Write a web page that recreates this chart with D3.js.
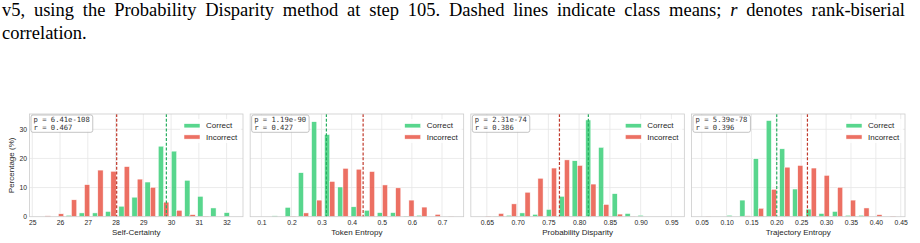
<!DOCTYPE html>
<html>
<head>
<meta charset="utf-8">
<script src="https://cdn.jsdelivr.net/npm/d3@7"></script>
<style>
body { margin:0; background:#fff; width:920px; height:243px; overflow:hidden; position:relative; }
.cap { position:absolute; left:2px; width:903px; font-family:"Liberation Serif","Times New Roman",serif; font-size:18.5px; line-height:17px; color:#000; }
#l1 { top:2px; text-align:justify; text-align-last:justify; }
#l2 { top:25px; }
svg { position:absolute; left:0; top:0; }
</style>
</head>
<body>
<div class="cap" id="l1">v5, using the Probability Disparity method at step 105. Dashed lines indicate class means; <i>r</i> denotes rank-biserial</div>
<div class="cap" id="l2">correlation.</div>
<div class="chart"></div>
<script>
// data (percent of each class per bin)
const metricNames = ["Self-Certainty", "Token Entropy", "Probability Disparity", "Trajectory Entropy"]

const binCenters = [
  [25.46, 25.94, 26.41, 26.88, 27.36, 27.83, 28.31, 28.78, 29.25, 29.73, 30.20, 30.68, 31.15, 31.62, 32.10],
  [0.153, 0.196, 0.240, 0.284, 0.327, 0.371, 0.415, 0.459, 0.502, 0.546, 0.590, 0.633, 0.677, 0.721],
  [0.648, 0.669, 0.690, 0.712, 0.733, 0.755, 0.776, 0.797, 0.819, 0.840, 0.862, 0.883, 0.904],
  [0.058, 0.084, 0.111, 0.137, 0.164, 0.190, 0.217, 0.243, 0.270, 0.296, 0.323, 0.349, 0.376, 0.402, 0.429]
]

const correctPct = [
  [0, 0, 0.5, 1.3, 1.3, 1.8, 3.6, 6.7, 11.9, 24.2, 22.5, 12.5, 7.0, 3.0, 1.4],
  [0.3, 3.2, 15.1, 32.6, 28.2, 10.2, 3.4, 2.2, 1.4, 1.4, 0.2, 0.5, 0, 0],
  [0, 0.1, 0.5, 1.3, 0.8, 2.5, 7.0, 19.2, 33.2, 23.8, 7.9, 1.1, 0.5],
  [0, 0, 0.5, 5.7, 19.9, 33.0, 23.3, 9.5, 2.6, 1.1, 1.8, 0.5, 0.5, 0, 0]
]

const incorrectPct = [
  [0.3, 1.0, 5.8, 11.0, 16.0, 15.6, 17.2, 12.9, 10.1, 5.0, 2.2, 0.7, 0.2, 0, 0],
  [0, 0.2, 1.3, 5.7, 12.1, 16.6, 16.3, 15.5, 10.9, 9.9, 5.7, 3.3, 0.8, 0.1],
  [0.2, 1.1, 4.4, 8.4, 13.2, 16.7, 19.5, 17.6, 11.2, 4.2, 0.9, 0.1, 0],
  [0.1, 0, 0, 0.3, 2.9, 9.4, 17.0, 17.6, 16.7, 14.2, 10.1, 5.7, 3.0, 0.7, 0.2]
]

const correctMean = [29.83, 0.316, 0.815, 0.2008]
const incorrectMean = [28.04, 0.438, 0.768, 0.2625]
const pValues = ["6.41e-108", "1.19e-90", "2.31e-74", "5.39e-78"]
const rValues = ["0.467", "0.427", "0.386", "0.396"]

const xTicks = [
  [25, 26, 27, 28, 29, 30, 31, 32],
  [0.1, 0.2, 0.3, 0.4, 0.5, 0.6, 0.7],
  [0.65, 0.70, 0.75, 0.80, 0.85, 0.90, 0.95],
  [0.05, 0.10, 0.15, 0.20, 0.25, 0.30, 0.35, 0.40, 0.45]
]
const yTicks = [0, 10, 20, 30]
const seriesNames = ["Correct", "Incorrect"]

// layout
const xDomains = [[24.9, 32.59], [0.0628, 0.772], [0.624, 0.971], [0.0295, 0.4586]]
const tickFormats = [d3.format("d"), d3.format(".1f"), d3.format(".2f"), d3.format(".2f")]
const fills = ["#2ecc71", "#e74c3c"]
const meanColors = ["#27ae60", "#c0392b"]
const plotTop = 114, plotBottom = 216.7, panelW = 213.5
const sans = "'Liberation Sans', Arial, sans-serif"
const mono = "'DejaVu Sans Mono', monospace"

const svg = d3.select(".chart").append("svg")
  .attr("width", 920).attr("height", 243)

const y = d3.scaleLinear().domain([0, 35.25]).range([plotBottom, plotTop])

const drawPanel = (i) => {
  const left = 29.5 + i * 220.67
  const right = left + panelW
  const x = d3.scaleLinear().domain(xDomains[i]).range([left, right])
  const g = svg.append("g")

  // grid
  g.selectAll(".vgrid").data(xTicks[i]).enter().append("line")
    .attr("x1", d => x(d)).attr("x2", d => x(d))
    .attr("y1", plotTop).attr("y2", plotBottom)
    .attr("stroke", "#e6e6e6").attr("stroke-width", 0.8)
  g.selectAll(".hgrid").data(yTicks.slice(1)).enter().append("line")
    .attr("x1", left).attr("x2", right)
    .attr("y1", d => y(d)).attr("y2", d => y(d))
    .attr("stroke", "#e6e6e6").attr("stroke-width", 0.8)

  // bars, side by side inside each bin
  const bw = binCenters[i][1] - binCenters[i][0]
  const bins = binCenters[i].map((c, k) => ({c: c, v: [correctPct[i][k], incorrectPct[i][k]]}))
  ;[0, 1].forEach(s => {
    g.selectAll(".bar" + s).data(bins.filter(d => d.v[s] > 0)).enter().append("rect")
      .attr("x", d => x(d.c - 0.4 * bw + s * 0.4 * bw))
      .attr("width", d => x(d.c) - x(d.c - 0.4 * bw))
      .attr("y", d => y(d.v[s]))
      .attr("height", d => plotBottom - y(d.v[s]))
      .attr("fill", fills[s]).attr("fill-opacity", 0.8)
      .attr("stroke", "#fff").attr("stroke-width", 0.5)
  })

  // class means
  ;[correctMean[i], incorrectMean[i]].forEach((m, s) => {
    g.append("line")
      .attr("x1", x(m)).attr("x2", x(m)).attr("y1", plotTop).attr("y2", plotBottom)
      .attr("stroke", meanColors[s]).attr("stroke-width", 1.2)
      .attr("stroke-dasharray", "3,1.8")
  })

  // frame
  g.append("rect")
    .attr("x", left).attr("y", plotTop).attr("width", panelW).attr("height", plotBottom - plotTop)
    .attr("fill", "none").attr("stroke", "#cccccc").attr("stroke-width", 0.8)

  // x axis
  const ax = g.append("g")
    .attr("transform", `translate(0,${plotBottom})`)
    .call(d3.axisBottom(x).tickValues(xTicks[i]).tickFormat(tickFormats[i]).tickSize(0).tickPadding(3.3))
  ax.select(".domain").remove()
  ax.selectAll("text").attr("font-family", sans).attr("font-size", "6.8px").attr("fill", "#262626")

  g.append("text")
    .attr("x", (left + right) / 2).attr("y", 234.5)
    .attr("text-anchor", "middle")
    .attr("font-family", sans).attr("font-size", "8px").attr("fill", "#262626")
    .text(metricNames[i])

  // stats box
  const box = g.append("rect")
    .attr("x", left + 1.5).attr("y", plotTop + 1).attr("height", 17.3)
    .attr("rx", 2).attr("fill", "#fff").attr("fill-opacity", 0.85)
    .attr("stroke", "#aaaaaa").attr("stroke-width", 0.7)
  const t1 = g.append("text").attr("x", left + 4).attr("y", plotTop + 8.4)
    .attr("font-family", mono).attr("font-size", "7.2px").attr("fill", "#333")
    .text(`p = ${pValues[i]}`)
  g.append("text").attr("x", left + 4).attr("y", plotTop + 16.4)
    .attr("font-family", mono).attr("font-size", "7.2px").attr("fill", "#333")
    .text(`r = ${rValues[i]}`)
  box.attr("width", t1.node().getComputedTextLength() + 5.5)

  // legend
  g.append("rect")
    .attr("x", right - 63).attr("y", plotTop + 5).attr("width", 61).attr("height", 24)
    .attr("fill", "#fff").attr("fill-opacity", 0.8)
  seriesNames.forEach((n, s) => {
    g.append("rect")
      .attr("x", right - 59).attr("y", plotTop + 9.7 + s * 11.2).attr("width", 16).attr("height", 4.2)
      .attr("fill", fills[s]).attr("fill-opacity", 0.8)
      .attr("stroke", "#fff").attr("stroke-width", 0.5)
    g.append("text")
      .attr("x", right - 37).attr("y", plotTop + 14.4 + s * 11.2)
      .attr("font-family", sans).attr("font-size", "8px").attr("fill", "#262626")
      .text(n)
  })

  if (i === 0) {
    const ay = g.append("g")
      .attr("transform", `translate(${left},0)`)
      .call(d3.axisLeft(y).tickValues(yTicks).tickSize(0).tickPadding(2.5))
    ay.select(".domain").remove()
    ay.selectAll("text").attr("font-family", sans).attr("font-size", "6.8px").attr("fill", "#262626")
    g.append("text")
      .attr("transform", `translate(13.5,${(plotTop + plotBottom) / 2}) rotate(-90)`)
      .attr("text-anchor", "middle")
      .attr("font-family", sans).attr("font-size", "8px").attr("fill", "#262626")
      .text("Percentage (%)")
  }
}

d3.range(4).forEach(drawPanel)
</script>
</body>
</html>
